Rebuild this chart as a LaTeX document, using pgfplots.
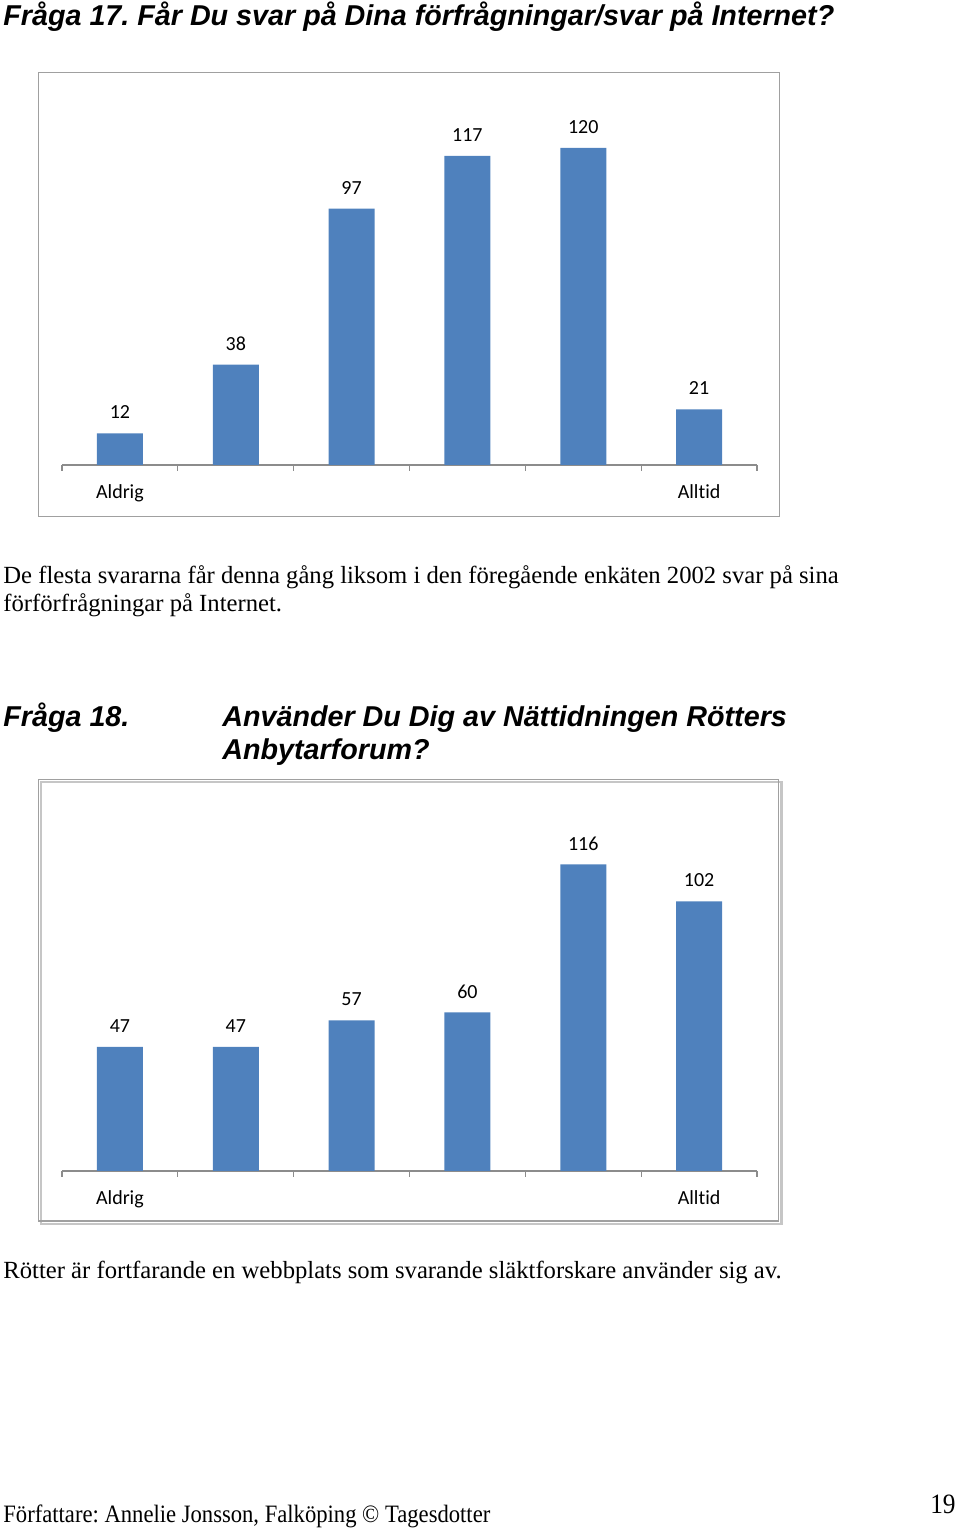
\documentclass[border=0pt]{standalone}
\usepackage{pgfplots}
\pgfplotsset{compat=1.18}
\usepackage{fontspec}
\setmainfont{Liberation Serif}
\newfontfamily\arial{Liberation Sans}
\newfontfamily\calibri[Ligatures=NoCommon]{Carlito}
\newfontfamily\footfont[FakeStretch=0.905]{Liberation Serif}
\definecolor{barblue}{HTML}{4F81BD}
\definecolor{framegray}{HTML}{A0A0A0}
\definecolor{axisgray}{HTML}{8C8C8C}
\pgfplotsset{
  qchart/.style={
    anchor=south west, scale only axis,
    width=347.5pt, height=185pt,
    ymin=0, ymax=140, xmin=-0.5, xmax=5.5,
    ybar, bar width=23pt, clip=false,
    hide y axis,
    axis x line*=bottom,
    axis line style={draw=axisgray, line width=0.6pt},
    xtick={0,...,5}, xticklabels={Aldrig,,,,,Alltid},
    major tick length=0pt,
    minor xtick={-0.5,0.5,...,5.5},
    minor tick length=3pt,
    tick align=outside,
    minor tick style={draw=axisgray, line width=0.6pt},
    xticklabel style={anchor=base, yshift=-17pt, font=\calibri\fontsize{10}{12}\selectfont},
    /pgf/number format/assume math mode=true,
    nodes near coords,
    nodes near coords style={anchor=center, yshift=10.5pt, font=\calibri\fontsize{10}{12}\selectfont, text=black},
  }
}
\begin{document}
\frenchspacing
\begin{tikzpicture}[x=0.5pt,y=0.5pt]
\useasboundingbox (0,0) rectangle (960,1529);
% Title 1
\node[anchor=base west, inner sep=0] at (3,1503) {\arial\bfseries\itshape\fontsize{14.35}{17}\selectfont Fråga 17. Får Du svar på Dina förfrågningar/svar på Internet?};
% Frame 1
\draw[framegray, line width=0.8pt] (38.5,1456.5) rectangle (779.5,1012.5);
\begin{axis}[qchart, at={(31pt,532pt)}]
\addplot[fill=barblue, draw=none] coordinates {(0,12) (1,38) (2,97) (3,117) (4,120) (5,21)};
\end{axis}
% Paragraph
\node[anchor=base west, inner sep=0] at (3,945) {\fontsize{12.33}{14}\selectfont De flesta svararna får denna gång liksom i den föregående enkäten 2002 svar på sina};
\node[anchor=base west, inner sep=0] at (3,917) {\fontsize{12.33}{14}\selectfont förförfrågningar på Internet.};
% Title 2
\node[anchor=base west, inner sep=0] at (3,802) {\arial\bfseries\itshape\fontsize{14.35}{17}\selectfont Fråga 18.};
\node[anchor=base west, inner sep=0] at (222,802) {\arial\bfseries\itshape\fontsize{14.35}{17}\selectfont Använder Du Dig av Nättidningen Rötters};
\node[anchor=base west, inner sep=0] at (222,769) {\arial\bfseries\itshape\fontsize{14.35}{17}\selectfont Anbytarforum?};
% Frame 2
\draw[framegray!60, line width=1.2pt] (41,747) rectangle (781.5,305);
\draw[framegray, line width=0.8pt] (38.5,749.5) rectangle (778.5,308);
\begin{axis}[qchart, at={(31pt,179pt)}]
\addplot[fill=barblue, draw=none] coordinates {(0,47) (1,47) (2,57) (3,60) (4,116) (5,102)};
\end{axis}
\node[anchor=base west, inner sep=0] at (3,250) {\fontsize{12.33}{14}\selectfont Rötter är fortfarande en webbplats som svarande släktforskare använder sig av.};
% Footer
\node[anchor=base west, inner sep=0] at (3,6) {\footfont\fontsize{12.5}{14}\selectfont Författare: Annelie Jonsson, Falköping © Tagesdotter};
\node[anchor=base east, inner sep=0] at (956,16) {\footfont\fontsize{14}{16}\selectfont 19};
\end{tikzpicture}
\end{document}
